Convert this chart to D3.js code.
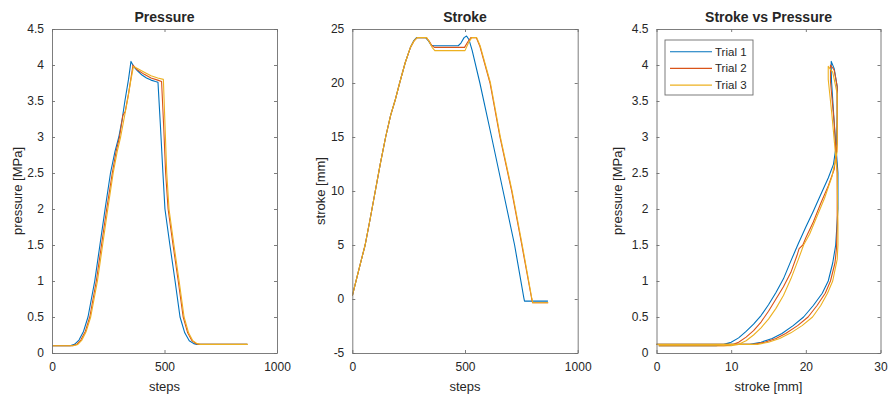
<!DOCTYPE html>
<html>
<head>
<meta charset="utf-8">
<script src="https://cdn.jsdelivr.net/npm/d3@7"></script>
<style>
  body { margin: 0; background: #fff; }
  text { font-family: "Liberation Sans", Arial, Helvetica, sans-serif; fill: #262626; }
</style>
</head>
<body>
<svg id="fig" width="889" height="397"></svg>
<script>
// ---- data -------------------------------------------------------------
const trials = ["Trial 1", "Trial 2", "Trial 3"];
const colors = ["#0072BD", "#D95319", "#EDB120"];

// pressure [MPa] over steps
const pSteps1 = [0, 80, 100, 120, 140, 160, 190, 213, 236, 260, 280, 297, 312, 324, 340, 351, 365, 380, 400, 420, 440, 460, 471, 482, 493, 502, 524, 547, 569, 590, 610, 630, 644, 868];
const pressure1 = [0.1, 0.1, 0.12, 0.18, 0.3, 0.5, 1.0, 1.5, 2.0, 2.5, 2.8, 3.0, 3.25, 3.5, 3.8, 4.05, 3.97, 3.92, 3.86, 3.82, 3.79, 3.77, 3.76, 3.15, 2.5, 2.0, 1.5, 1.0, 0.5, 0.28, 0.17, 0.13, 0.12, 0.12];
const pSteps2 = [0, 90, 110, 128, 148, 168, 197, 220, 243, 268, 285, 300, 315, 325, 340, 360, 380, 410, 440, 470, 487, 497, 505, 516, 538, 561, 583, 603, 622, 640, 655, 868];
const pressure2 = [0.1, 0.1, 0.12, 0.18, 0.3, 0.5, 1.0, 1.5, 2.0, 2.5, 2.8, 3.0, 3.3, 3.35, 3.6, 4.0, 3.93, 3.87, 3.82, 3.79, 3.77, 3.1, 2.5, 2.0, 1.5, 1.0, 0.5, 0.28, 0.17, 0.13, 0.12, 0.12];
const pSteps3 = [0, 95, 115, 133, 152, 172, 202, 225, 248, 272, 290, 305, 320, 335, 350, 362, 380, 410, 440, 470, 495, 503, 510, 520, 542, 565, 587, 607, 626, 645, 660, 870];
const pressure3 = [0.1, 0.1, 0.12, 0.18, 0.3, 0.5, 1.0, 1.5, 2.0, 2.5, 2.8, 3.0, 3.25, 3.5, 3.78, 3.98, 3.95, 3.9, 3.85, 3.82, 3.8, 3.1, 2.5, 2.0, 1.5, 1.0, 0.5, 0.28, 0.17, 0.13, 0.12, 0.12];

// stroke [mm] over steps
const sSteps1 = [0, 30, 57, 80, 102, 125, 148, 170, 190, 210, 235, 258, 272, 285, 325, 338, 350, 362, 470, 482, 496, 507, 518, 532, 566, 618, 669, 720, 761, 764, 868];
const stroke1 = [0.3, 2.8, 5, 7.5, 10, 12.6, 15, 17, 18.4, 20, 21.9, 23.3, 23.9, 24.2, 24.2, 23.9, 23.5, 23.45, 23.45, 23.7, 24.2, 24.35, 24.0, 23.0, 20, 15, 10, 5, 0.1, -0.2, -0.2];
const sSteps2 = [0, 30, 57, 80, 102, 125, 148, 170, 190, 210, 235, 258, 274, 288, 328, 340, 352, 364, 498, 512, 526, 550, 566, 611, 655, 707, 752, 796, 800, 868];
const stroke2 = [0.3, 2.8, 5, 7.5, 10, 12.6, 15, 17, 18.4, 20, 21.9, 23.3, 23.9, 24.2, 24.2, 23.9, 23.5, 23.3, 23.3, 23.8, 24.2, 24.2, 23.4, 20, 15, 10, 5, 0, -0.35, -0.35];
const sSteps3 = [0, 30, 57, 80, 102, 125, 148, 170, 190, 210, 235, 258, 274, 288, 330, 342, 354, 366, 500, 515, 530, 552, 568, 613, 657, 709, 754, 797, 801, 870];
const stroke3 = [0.3, 2.8, 5, 7.5, 10, 12.6, 15, 17, 18.4, 20, 21.9, 23.3, 23.9, 24.2, 24.2, 23.8, 23.3, 23.0, 23.0, 23.7, 24.2, 24.2, 23.4, 20, 15, 10, 5, 0, -0.35, -0.35];

// stroke vs pressure loop (stroke [mm], pressure [MPa])
const loopStroke1 = [0.3, 4, 8, 9, 10, 11, 12, 13, 14, 15, 16, 17, 18, 19, 20, 21, 22, 23, 23.7, 24.1, 24.2, 24.2, 23.8, 23.4, 23.4, 23.45, 23.8, 24.3, 24.3, 24.0, 23.6, 23.0, 22.2, 21.0, 19.7, 18.3, 16.8, 15.5, 14.0, 12.5, 10, 5, 0, -0.2];
const loopPressure1 = [0.1, 0.1, 0.1, 0.12, 0.15, 0.21, 0.3, 0.4, 0.52, 0.67, 0.84, 1.03, 1.28, 1.52, 1.75, 1.97, 2.2, 2.43, 2.62, 2.9, 3.3, 3.7, 3.95, 4.05, 3.9, 3.76, 3.2, 2.5, 2.0, 1.5, 1.25, 1.0, 0.83, 0.66, 0.5, 0.38, 0.27, 0.2, 0.15, 0.12, 0.12, 0.12, 0.12, 0.12];
const loopStroke2 = [0.3, 5, 9, 10, 11, 12, 13, 14, 15, 16, 17, 18, 18.8, 19.1, 19.6, 20, 21, 22, 23, 23.8, 24.2, 24.2, 23.8, 23.3, 23.3, 23.8, 24.2, 24.2, 24.1, 23.9, 23.3, 22.6, 21.5, 20.3, 18.9, 17.3, 16.0, 14.5, 13.0, 5, 0, -0.35];
const loopPressure2 = [0.1, 0.1, 0.1, 0.11, 0.15, 0.22, 0.31, 0.43, 0.58, 0.75, 0.92, 1.12, 1.35, 1.45, 1.5, 1.6, 1.82, 2.08, 2.32, 2.55, 2.9, 3.7, 3.93, 4.0, 3.77, 3.2, 2.5, 1.8, 1.45, 1.25, 1.0, 0.83, 0.66, 0.5, 0.38, 0.27, 0.2, 0.15, 0.12, 0.12, 0.12, 0.12];
const loopStroke3 = [0.3, 5, 10, 11, 12, 13, 14, 15, 16, 17, 18, 19, 19.7, 20.5, 21.5, 22.5, 23.5, 24.2, 24.2, 23.6, 23.0, 23.0, 23.5, 24.2, 24.3, 24.3, 24.2, 23.6, 22.9, 22.0, 20.9, 19.5, 18.0, 16.5, 15.0, 13.5, 5, 0, -0.35];
const loopPressure3 = [0.1, 0.1, 0.1, 0.12, 0.17, 0.25, 0.35, 0.47, 0.62, 0.8, 1.03, 1.3, 1.5, 1.65, 1.9, 2.15, 2.45, 2.8, 3.6, 3.9, 3.98, 3.8, 3.3, 2.5, 1.8, 1.5, 1.3, 1.0, 0.83, 0.66, 0.5, 0.38, 0.28, 0.2, 0.15, 0.12, 0.12, 0.12, 0.12];

// axis ticks and labels
const stepTicks = [0, 500, 1000];
const stepTickLabels = ["0", "500", "1000"];
const pressureTicks = [0, 0.5, 1, 1.5, 2, 2.5, 3, 3.5, 4, 4.5];
const pressureTickLabels = ["0", "0.5", "1", "1.5", "2", "2.5", "3", "3.5", "4", "4.5"];
const strokeTicks = [-5, 0, 5, 10, 15, 20, 25];
const strokeTickLabels = ["-5", "0", "5", "10", "15", "20", "25"];
const strokeMmTicks = [0, 10, 20, 30];
const strokeMmTickLabels = ["0", "10", "20", "30"];

const titles = ["Pressure", "Stroke", "Stroke vs Pressure"];
const xLabels = ["steps", "steps", "stroke [mm]"];
const yLabels = ["pressure [MPa]", "stroke [mm]", "pressure [MPa]"];

// ---- layout -----------------------------------------------------------
const svg = d3.select("#fig");
const plotTop = 29, plotBottom = 353;
const panelX = [[52, 277], [352.3, 577.7], [656.5, 880.5]];
const yLabelX = [17, 320, 617];

const toPairs = (xs, ys) => xs.map((x, i) => [x, ys[i]]);

const panels = [
  {
    x: d3.scaleLinear().domain([0, 1000]).range(panelX[0]),
    y: d3.scaleLinear().domain([0, 4.5]).range([plotBottom, plotTop]),
    xt: stepTicks, xl: stepTickLabels, yt: pressureTicks, yl: pressureTickLabels,
    series: [toPairs(pSteps1, pressure1), toPairs(pSteps2, pressure2), toPairs(pSteps3, pressure3)]
  },
  {
    x: d3.scaleLinear().domain([0, 1000]).range(panelX[1]),
    y: d3.scaleLinear().domain([-5, 25]).range([plotBottom, plotTop]),
    xt: stepTicks, xl: stepTickLabels, yt: strokeTicks, yl: strokeTickLabels,
    series: [toPairs(sSteps1, stroke1), toPairs(sSteps2, stroke2), toPairs(sSteps3, stroke3)]
  },
  {
    x: d3.scaleLinear().domain([0, 30]).range(panelX[2]),
    y: d3.scaleLinear().domain([0, 4.5]).range([plotBottom, plotTop]),
    xt: strokeMmTicks, xl: strokeMmTickLabels, yt: pressureTicks, yl: pressureTickLabels,
    series: [toPairs(loopStroke1, loopPressure1), toPairs(loopStroke2, loopPressure2), toPairs(loopStroke3, loopPressure3)]
  }
];

const axisColor = "#6e6e6e";

panels.forEach((p, k) => {
  const [x0, x1] = p.x.range();
  const g = svg.append("g");

  // clip region for the data lines
  svg.append("clipPath").attr("id", "clip" + k)
    .append("rect").attr("x", x0).attr("y", plotTop).attr("width", x1 - x0).attr("height", plotBottom - plotTop);

  const line = d3.line().x(d => p.x(d[0])).y(d => p.y(d[1]));
  const lines = g.append("g").attr("clip-path", `url(#clip${k})`);
  p.series.forEach((s, i) => {
    lines.append("path").datum(s)
      .attr("d", line)
      .attr("fill", "none")
      .attr("stroke", colors[i])
      .attr("stroke-width", 1.1)
      .attr("stroke-linejoin", "round");
  });

  // axes: bottom/left labelled, top/right tick marks only, ticks pointing inward
  const fmtX = d => p.xl[p.xt.indexOf(d)];
  const fmtY = d => p.yl[p.yt.indexOf(d)];

  const bx = g.append("g").attr("transform", `translate(0,${plotBottom})`)
    .call(d3.axisBottom(p.x).tickValues(p.xt).tickFormat(fmtX).tickSizeInner(-3).tickSizeOuter(0).tickPadding(9));
  const lx = g.append("g").attr("transform", `translate(${x0},0)`)
    .call(d3.axisLeft(p.y).tickValues(p.yt).tickFormat(fmtY).tickSizeInner(-3).tickSizeOuter(0).tickPadding(8));
  const tx = g.append("g").attr("transform", `translate(0,${plotTop})`)
    .call(d3.axisTop(p.x).tickValues(p.xt).tickFormat("").tickSizeInner(-3).tickSizeOuter(0));
  const rx = g.append("g").attr("transform", `translate(${x1},0)`)
    .call(d3.axisRight(p.y).tickValues(p.yt).tickFormat("").tickSizeInner(-3).tickSizeOuter(0));

  [bx, lx, tx, rx].forEach(a => {
    a.select(".domain").attr("stroke", axisColor).attr("stroke-width", 0.9);
    a.selectAll(".tick line").attr("stroke", axisColor).attr("stroke-width", 0.9);
    a.selectAll(".tick text").attr("font-size", 12).attr("fill", "#262626")
      .attr("font-family", '"Liberation Sans", Arial, sans-serif');
  });

  // title and axis labels
  const cx = (x0 + x1) / 2;
  g.append("text").attr("x", cx).attr("y", 22).attr("text-anchor", "middle")
    .attr("font-size", 14).attr("font-weight", "bold").attr("fill", "#111").text(titles[k]);
  g.append("text").attr("x", cx).attr("y", 391).attr("text-anchor", "middle")
    .attr("font-size", 13).text(xLabels[k]);
  g.append("text").attr("transform", `translate(${yLabelX[k]},${(plotTop + plotBottom) / 2}) rotate(-90)`)
    .attr("dy", "0.35em").attr("text-anchor", "middle")
    .attr("font-size", 13).text(yLabels[k]);
});

// legend in the stroke-vs-pressure panel
const leg = svg.append("g");
leg.append("rect").attr("x", 665).attr("y", 40).attr("width", 88).attr("height", 55)
  .attr("fill", "#fff").attr("stroke", axisColor).attr("stroke-width", 0.9);
trials.forEach((t, i) => {
  const yy = 51.7 + i * 16.7;
  leg.append("line").attr("x1", 670).attr("x2", 712).attr("y1", yy).attr("y2", yy)
    .attr("stroke", colors[i]).attr("stroke-width", 1.1);
  leg.append("text").attr("x", 715).attr("y", yy).attr("dy", "0.35em")
    .attr("font-size", 11.5).text(t);
});
</script>
</body>
</html>
